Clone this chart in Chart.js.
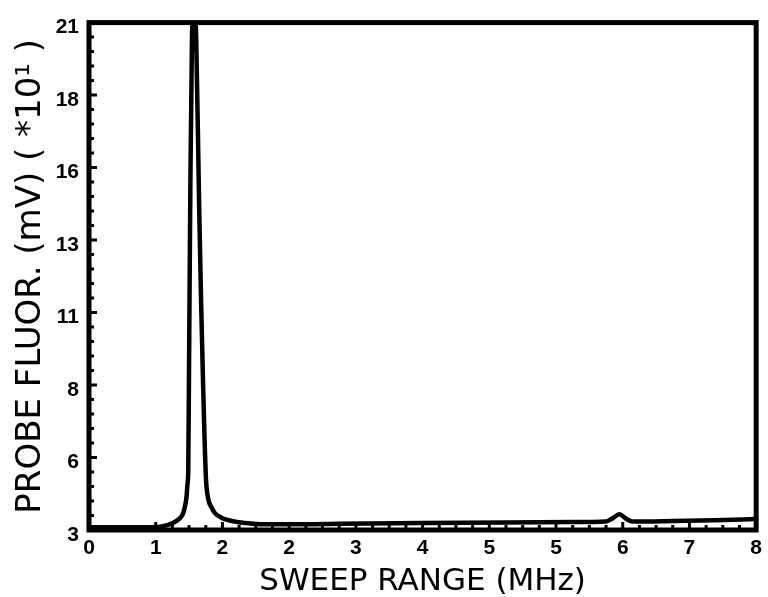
<!DOCTYPE html>
<html>
<head>
<meta charset="utf-8">
<script src="https://cdn.jsdelivr.net/npm/chart.js"></script>
<style>
  html, body { margin: 0; padding: 0; background: #fff; }
  #wrap { width: 768px; height: 597px; }
</style>
</head>
<body>
<div id="wrap"><canvas id="sweepChart"></canvas></div>
<script>
// Values
const sweepMHz = [0, 0.4, 0.8, 0.95, 1.05, 1.1, 1.13, 1.155, 1.17, 1.18, 1.19, 1.2, 1.215, 1.235, 1.26,
    1.285, 1.32, 1.345, 1.367, 1.385, 1.403, 1.43, 1.47, 1.51, 1.6, 1.7, 1.87, 2.1, 2.5, 3.0, 4.0, 5.0,
    5.8, 6.2, 6.28, 6.36, 6.44, 6.52, 7.0, 7.5, 8.0];
const probeFluor = [3.1, 3.1, 3.1, 3.18, 3.32, 3.45, 3.6, 3.9, 4.2, 4.6, 5.1, 9.0, 15.0, 20.5, 21.4,
    20.5, 14.6, 11.0, 8.3, 6.3, 4.8, 4.1, 3.8, 3.6, 3.42, 3.33, 3.25, 3.2, 3.2, 3.22, 3.25, 3.27,
    3.28, 3.3, 3.42, 3.56, 3.4, 3.3, 3.32, 3.35, 3.39];

const xTickValues = [0, 0.8, 1.6, 2.4, 3.2, 4.0, 4.8, 5.6, 6.4, 7.2, 8.0];
const xTickLabels = ['0', '1', '2', '2', '3', '4', '5', '5', '6', '7', '8'];
const yTickValues = [3, 5.571, 8.143, 10.714, 13.286, 15.857, 18.429, 21];
const yTickLabels = ['3', '6', '8', '11', '13', '16', '18', '21'];

// thick frame + inward major/minor ticks like the old plotter output
const frameTicks = {
    id: 'frameTicks',
    afterDraw(chart) {
        const { ctx, chartArea: a, scales: { x, y } } = chart;
        ctx.save();
        ctx.strokeStyle = '#000';
        ctx.lineCap = 'butt';
        ctx.lineWidth = 3;
        ctx.beginPath();
        for (let i = 0; i < xTickValues.length; i++) {
            const px = x.getPixelForValue(xTickValues[i]);
            ctx.moveTo(px, a.bottom);
            ctx.lineTo(px, a.bottom - 8);
            if (i < xTickValues.length - 1) {
                const step = (xTickValues[i + 1] - xTickValues[i]) / 4;
                for (let k = 1; k < 4; k++) {
                    const mx = x.getPixelForValue(xTickValues[i] + k * step);
                    ctx.moveTo(mx, a.bottom);
                    ctx.lineTo(mx, a.bottom - 5);
                }
            }
        }
        for (let i = 0; i < yTickValues.length; i++) {
            const py = y.getPixelForValue(yTickValues[i]);
            ctx.moveTo(a.left, py);
            ctx.lineTo(a.left + 8, py);
            if (i < yTickValues.length - 1) {
                const step = (yTickValues[i + 1] - yTickValues[i]) / 5;
                for (let k = 1; k < 5; k++) {
                    const my = y.getPixelForValue(yTickValues[i] + k * step);
                    ctx.moveTo(a.left, my);
                    ctx.lineTo(a.left + 5, my);
                }
            }
        }
        ctx.stroke();
        ctx.lineWidth = 5;
        ctx.strokeRect(a.left, a.top, a.right - a.left, a.bottom - a.top);
        ctx.restore();
    }
};

const tickFont = { family: 'Liberation Sans', size: 21, weight: 'bold' };

new Chart(document.getElementById('sweepChart').getContext('2d'), {
    type: 'line',
    data: {
        datasets: [{
            data: sweepMHz.map((v, i) => ({ x: v, y: probeFluor[i] })),
            borderColor: '#000',
            borderWidth: 4.5,
            pointRadius: 0,
            cubicInterpolationMode: 'monotone',
            fill: false
        }]
    },
    options: {
        responsive: true,
        maintainAspectRatio: false,
        animation: false,
        layout: { padding: { top: 18, right: 6, bottom: 0, left: 0 } },
        plugins: {
            legend: { display: false },
            tooltip: { enabled: false }
        },
        scales: {
            x: {
                type: 'linear',
                min: 0,
                max: 8,
                afterFit: s => { s.height = 67; },
                afterBuildTicks: s => { s.ticks = xTickValues.map(v => ({ value: v })); },
                grid: { display: false, drawTicks: false },
                border: { display: false },
                ticks: {
                    color: '#000',
                    font: tickFont,
                    padding: 6,
                    maxRotation: 0,
                    autoSkip: false,
                    callback: (v, i) => xTickLabels[i]
                },
                title: {
                    display: true,
                    text: 'SWEEP RANGE (MHz)',
                    color: '#000',
                    font: { family: 'DejaVu Sans', size: 31, lineHeight: 1 },
                    padding: { top: 0, bottom: 0 }
                }
            },
            y: {
                type: 'linear',
                min: 3,
                max: 21,
                afterFit: s => { s.width = 89; },
                afterBuildTicks: s => { s.ticks = yTickValues.map(v => ({ value: v })); },
                grid: { display: false, drawTicks: false },
                border: { display: false },
                ticks: {
                    color: '#000',
                    font: tickFont,
                    padding: 10,
                    labelOffset: 5,
                    autoSkip: false,
                    callback: (v, i) => yTickLabels[i]
                },
                title: {
                    display: true,
                    text: 'PROBE FLUOR. (mV) ( *10¹ )',
                    color: '#000',
                    font: { family: 'DejaVu Sans', size: 34, lineHeight: 1 },
                    padding: { top: 14, bottom: 0 }
                }
            }
        }
    },
    plugins: [frameTicks]
});
</script>
</body>
</html>
